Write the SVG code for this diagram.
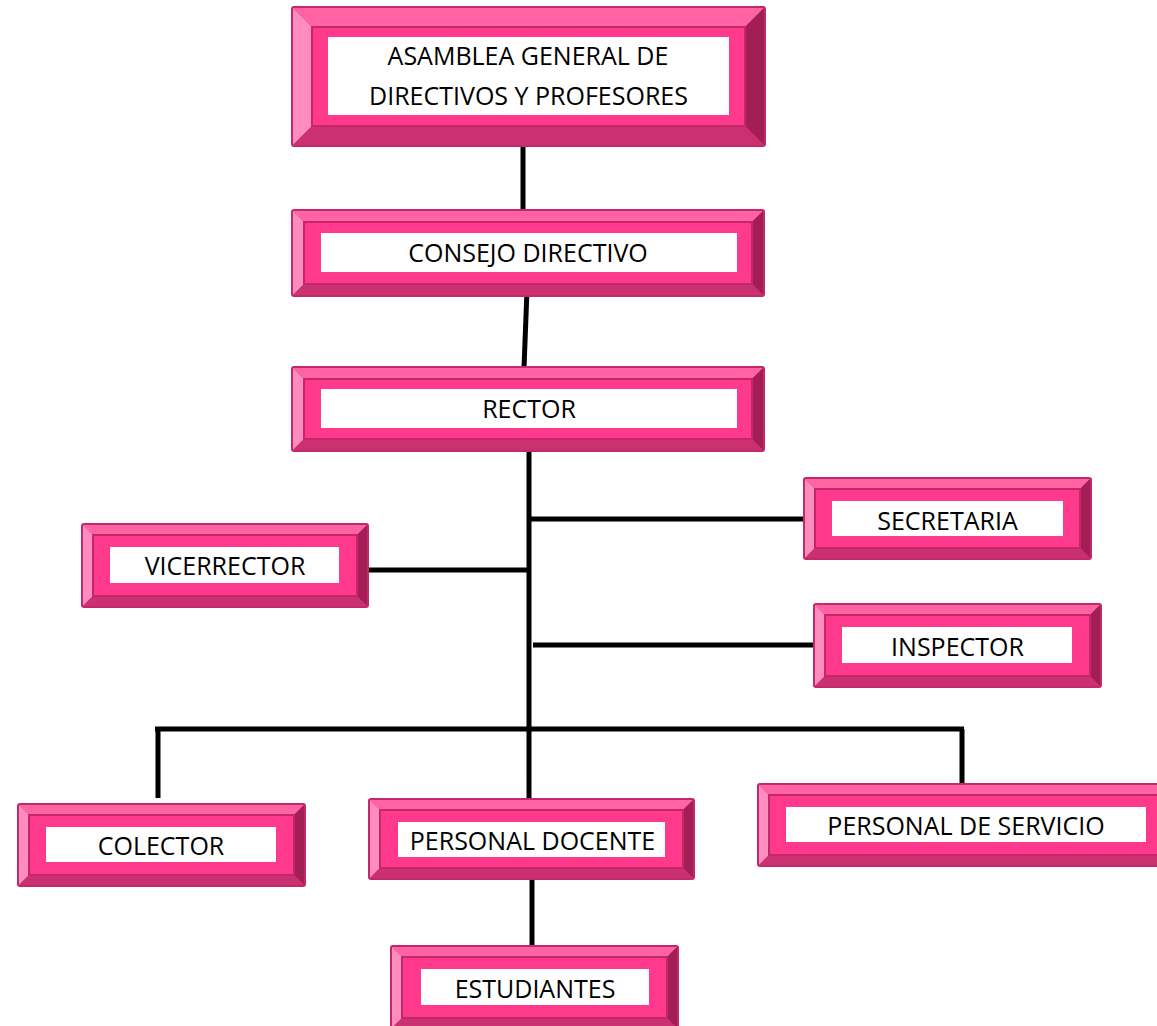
<svg xmlns="http://www.w3.org/2000/svg" width="1157" height="1026" viewBox="0 0 1157 1026">
<style>
.o{fill:#C2286A}
.t{fill:#FF63A3}
.l{fill:#FF8CBE}
.r{fill:#A41E56}
.b{fill:#CB3070}
.f{fill:#FF3A8C;stroke:#C2286A;stroke-width:2}
.w{fill:#FFFFFF}
.tx{font-family:"Open Sans","Liberation Sans",sans-serif;font-size:25px;fill:#000;text-anchor:middle}
.c{stroke:#000;stroke-width:5;fill:none;stroke-linecap:butt}
</style>
<rect width="1157" height="1026" fill="#FFFFFF"/>
<g id="connectors">
<path class="c" d="M523,145 V211"/>
<path class="c" d="M527,290 L524,368"/>
<path class="c" d="M529,446 V800"/>
<path class="c" d="M529,519 H805"/>
<path class="c" d="M369,570 H529"/>
<path class="c" d="M533,645 H814"/>
<path class="c" d="M155,729 H964"/>
<path class="c" d="M158,729 V798"/>
<path class="c" d="M962,729 V798"/>
<path class="c" d="M532,880 V947"/>
</g>
<g id="asamblea">
<rect class="o" x="291" y="6" width="475" height="141" rx="3"/>
<polygon class="t" points="293,8 764,8 745,27 312,27"/>
<polygon class="l" points="293,8 312,27 312,126 293,145"/>
<polygon class="r" points="764,8 764,145 745,126 745,27"/>
<polygon class="b" points="293,145 764,145 745,126 312,126"/>
<rect class="f" x="312" y="27" width="433" height="99"/>
<rect class="w" x="328" y="37" width="401" height="78"/>
<text class="tx" x="528" y="65">ASAMBLEA GENERAL DE</text>
<text class="tx" x="528.5" y="105">DIRECTIVOS Y PROFESORES</text>
</g>
<g id="consejo">
<rect class="o" x="291" y="209" width="474" height="88" rx="3"/>
<polygon class="t" points="293,211 763,211 752,222 304,222"/>
<polygon class="l" points="293,211 304,222 304,284 293,295"/>
<polygon class="r" points="763,211 763,295 752,284 752,222"/>
<polygon class="b" points="293,295 763,295 752,284 304,284"/>
<rect class="f" x="304" y="222" width="448" height="62"/>
<rect class="w" x="321" y="233" width="416" height="39"/>
<text class="tx" x="528" y="262">CONSEJO DIRECTIVO</text>
</g>
<g id="rector">
<rect class="o" x="291" y="366" width="474" height="86" rx="3"/>
<polygon class="t" points="293,368 763,368 752,379 304,379"/>
<polygon class="l" points="293,368 304,379 304,439 293,450"/>
<polygon class="r" points="763,368 763,450 752,439 752,379"/>
<polygon class="b" points="293,450 763,450 752,439 304,439"/>
<rect class="f" x="304" y="379" width="448" height="60"/>
<rect class="w" x="321" y="389" width="416" height="39"/>
<text class="tx" x="529" y="418">RECTOR</text>
</g>
<g id="secretaria">
<rect class="o" x="803" y="477" width="289" height="83" rx="3"/>
<polygon class="t" points="805,479 1090,479 1080,489 815,489"/>
<polygon class="l" points="805,479 815,489 815,548 805,558"/>
<polygon class="r" points="1090,479 1090,558 1080,548 1080,489"/>
<polygon class="b" points="805,558 1090,558 1080,548 815,548"/>
<rect class="f" x="815" y="489" width="265" height="59"/>
<rect class="w" x="832" y="501" width="231" height="35"/>
<text class="tx" x="947.5" y="530">SECRETARIA</text>
</g>
<g id="vicerrector">
<rect class="o" x="81" y="523" width="288" height="85" rx="3"/>
<polygon class="t" points="83,525 367,525 357,535 93,535"/>
<polygon class="l" points="83,525 93,535 93,596 83,606"/>
<polygon class="r" points="367,525 367,606 357,596 357,535"/>
<polygon class="b" points="83,606 367,606 357,596 93,596"/>
<rect class="f" x="93" y="535" width="264" height="61"/>
<rect class="w" x="110" y="547" width="229" height="36"/>
<text class="tx" x="225" y="575">VICERRECTOR</text>
</g>
<g id="inspector">
<rect class="o" x="813" y="603" width="289" height="85" rx="3"/>
<polygon class="t" points="815,605 1100,605 1090,615 825,615"/>
<polygon class="l" points="815,605 825,615 825,676 815,686"/>
<polygon class="r" points="1100,605 1100,686 1090,676 1090,615"/>
<polygon class="b" points="815,686 1100,686 1090,676 825,676"/>
<rect class="f" x="825" y="615" width="265" height="61"/>
<rect class="w" x="842" y="627" width="230" height="36"/>
<text class="tx" x="957.5" y="656">INSPECTOR</text>
</g>
<g id="colector">
<rect class="o" x="17" y="803" width="289" height="84" rx="3"/>
<polygon class="t" points="19,805 304,805 294,815 29,815"/>
<polygon class="l" points="19,805 29,815 29,875 19,885"/>
<polygon class="r" points="304,805 304,885 294,875 294,815"/>
<polygon class="b" points="19,885 304,885 294,875 29,875"/>
<rect class="f" x="29" y="815" width="265" height="60"/>
<rect class="w" x="46" y="827" width="230" height="35"/>
<text class="tx" x="161" y="855">COLECTOR</text>
</g>
<g id="docente">
<rect class="o" x="368" y="798" width="327" height="82" rx="3"/>
<polygon class="t" points="370,800 693,800 683,810 380,810"/>
<polygon class="l" points="370,800 380,810 380,868 370,878"/>
<polygon class="r" points="693,800 693,878 683,868 683,810"/>
<polygon class="b" points="370,878 693,878 683,868 380,868"/>
<rect class="f" x="380" y="810" width="303" height="58"/>
<rect class="w" x="398" y="822" width="267" height="35"/>
<text class="tx" x="532.5" y="850">PERSONAL DOCENTE</text>
</g>
<g id="servicio">
<rect class="o" x="757" y="783" width="418" height="84" rx="3"/>
<polygon class="t" points="759,785 1173,785 1163,795 769,795"/>
<polygon class="l" points="759,785 769,795 769,855 759,865"/>
<polygon class="r" points="1173,785 1173,865 1163,855 1163,795"/>
<polygon class="b" points="759,865 1173,865 1163,855 769,855"/>
<rect class="f" x="769" y="795" width="394" height="60"/>
<rect class="w" x="786" y="807" width="360" height="35"/>
<text class="tx" x="966" y="835">PERSONAL DE SERVICIO</text>
</g>
<g id="estudiantes">
<rect class="o" x="390" y="945" width="289" height="85" rx="3"/>
<polygon class="t" points="392,947 677,947 667,957 402,957"/>
<polygon class="l" points="392,947 402,957 402,1018 392,1028"/>
<polygon class="r" points="677,947 677,1028 667,1018 667,957"/>
<polygon class="b" points="392,1028 677,1028 667,1018 402,1018"/>
<rect class="f" x="402" y="957" width="265" height="61"/>
<rect class="w" x="421" y="969" width="228" height="36"/>
<text class="tx" x="535" y="998">ESTUDIANTES</text>
</g>
</svg>
